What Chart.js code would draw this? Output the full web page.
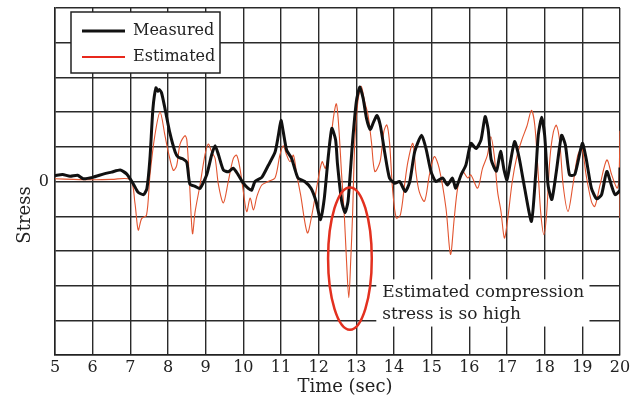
<!DOCTYPE html>
<html>
<head>
<meta charset="utf-8">
<script src="https://cdn.jsdelivr.net/npm/chart.js@4.4.1/dist/chart.umd.min.js"></script>
<style>
  html, body { margin: 0; padding: 0; background: #fff; }
  #wrap { width: 638px; height: 400px; }
</style>
</head>
<body>
<div id="wrap"><canvas id="chart" width="638" height="400"></canvas></div>
<script>
// values (time in sec, stress in grid units)
const measuredTime = [
  5.0, 5.2, 5.4, 5.6, 5.75, 6.0, 6.3, 6.5, 6.73, 6.9, 7.08, 7.2, 7.35, 7.44, 7.52, 7.6, 7.68, 7.73, 7.77, 7.83,
  7.92, 8.05, 8.19, 8.27, 8.4, 8.5, 8.58, 8.72, 8.85, 9.03, 9.16, 9.25, 9.34, 9.47, 9.6, 9.73, 9.86, 10.0, 10.13, 10.22,
  10.31, 10.49, 10.66, 10.84, 10.93, 11.0, 11.06, 11.15, 11.28, 11.45, 11.63, 11.8, 11.93, 12.05, 12.15, 12.26, 12.35, 12.45, 12.5, 12.61,
  12.7, 12.78, 12.9, 13.0, 13.09, 13.18, 13.27, 13.37, 13.46, 13.55, 13.64, 13.75, 13.88, 14.02, 14.15, 14.3, 14.42, 14.55, 14.73, 14.85,
  14.98, 15.11, 15.29, 15.42, 15.55, 15.64, 15.78, 15.91, 16.04, 16.18, 16.31, 16.42, 16.5, 16.58, 16.72, 16.83, 16.92, 17.0, 17.2, 17.32,
  17.47, 17.65, 17.76, 17.83, 17.92, 18.0, 18.09, 18.19, 18.31, 18.45, 18.55, 18.66, 18.8, 19.0, 19.1, 19.24, 19.38, 19.51, 19.65, 19.78,
  19.87, 20.0, 20.0
];
const measuredStress = [
  0.17, 0.2, 0.15, 0.18, 0.08, 0.12, 0.22, 0.27, 0.33, 0.22, -0.07, -0.3, -0.38, -0.2, 0.65, 2.1, 2.7, 2.6, 2.65, 2.55,
  2.1, 1.4, 0.85, 0.7, 0.65, 0.55, -0.07, -0.14, -0.2, 0.2, 0.77, 1.03, 0.77, 0.33, 0.28, 0.38, 0.2, -0.05, -0.2, -0.25,
  0.0, 0.12, 0.46, 0.84, 1.33, 1.76, 1.43, 0.9, 0.67, 0.1, 0.0, -0.2, -0.57, -1.1, -0.48, 0.77, 1.53, 1.2, 0.5, -0.57,
  -0.9, -0.57, 1.15, 2.3, 2.72, 2.4, 1.82, 1.5, 1.72, 1.9, 1.6, 0.86, 0.1, -0.05, 0.0, -0.29, 0.0, 0.86, 1.33, 0.95,
  0.29, 0.0, 0.1, -0.1, 0.1, -0.19, 0.19, 0.48, 1.1, 0.95, 1.2, 1.87, 1.5, 0.63, 0.3, 0.87, 0.34, 0.05, 1.15, 0.7,
  -0.2, -1.15, 0.19, 1.33, 1.85, 1.33, -0.1, -0.52, 0.29, 1.33, 1.05, 0.19, 0.2, 1.1, 0.67, -0.19, -0.5, -0.38, 0.29, -0.14,
  -0.38, -0.24, 0.4
];
const estimatedTime = [
  5.0, 5.5, 6.0, 6.5, 7.0, 7.12, 7.21, 7.3, 7.43, 7.52, 7.65, 7.79, 7.92, 8.01, 8.14, 8.23, 8.32, 8.45, 8.5, 8.57,
  8.65, 8.72, 8.85, 8.98, 9.07, 9.16, 9.25, 9.34, 9.47, 9.6, 9.73, 9.82, 9.91, 10.0, 10.09, 10.18, 10.27, 10.36, 10.49, 10.66,
  10.84, 10.97, 11.06, 11.15, 11.24, 11.33, 11.42, 11.52, 11.7, 11.82, 11.96, 12.09, 12.18, 12.31, 12.4, 12.47, 12.53, 12.61, 12.68, 12.74,
  12.8, 12.85, 12.9, 12.96, 13.04, 13.13, 13.22, 13.31, 13.4, 13.49, 13.63, 13.73, 13.81, 13.88, 13.96, 14.06, 14.17, 14.28, 14.37, 14.5,
  14.58, 14.67, 14.81, 14.94, 15.07, 15.2, 15.38, 15.5, 15.6, 15.69, 15.82, 15.96, 16.04, 16.22, 16.35, 16.48, 16.57, 16.66, 16.75, 16.84,
  16.93, 17.01, 17.14, 17.27, 17.4, 17.53, 17.65, 17.74, 17.83, 17.9, 17.98, 18.05, 18.14, 18.23, 18.31, 18.4, 18.49, 18.62, 18.75, 18.88,
  18.99, 19.1, 19.24, 19.33, 19.47, 19.65, 19.78, 19.92, 19.97, 20.0, 20.0
];
const estimatedStress = [
  0.08, 0.06, 0.05, 0.06, 0.05, -0.6, -1.4, -1.07, -0.97, 0.17, 1.32, 2.0, 1.32, 0.84, 0.32, 0.46, 1.08, 1.32, 1.2, 0.0,
  -1.5, -0.87, -0.1, 0.76, 1.08, 0.85, 0.67, -0.1, -0.62, 0.0, 0.65, 0.76, 0.38, -0.29, -0.87, -0.48, -0.82, -0.43, -0.1, 0.0,
  0.1, 0.76, 1.03, 0.76, 0.57, 0.76, 0.19, -0.38, -1.48, -0.96, -0.1, 0.57, 0.38, 1.13, 1.9, 2.24, 1.63, 0.19, -0.96, -2.3,
  -3.35, -2.3, -0.96, 1.15, 2.3, 2.74, 2.3, 1.92, 1.15, 0.29, 0.57, 1.44, 1.63, 1.15, -0.19, -1.05, -0.96, -0.1, 0.57, 1.1,
  0.29, -0.29, -0.57, 0.19, 0.72, 0.38, -0.77, -2.1, -1.05, -0.19, 0.29, 0.1, 0.19, -0.19, 0.38, 0.76, 1.29, 0.76, -0.29, -0.86,
  -1.63, -1.15, 0.0, 0.76, 1.22, 1.6, 2.05, 1.6, 0.19, -0.96, -1.53, -0.96, 0.67, 1.42, 1.62, 1.14, -0.1, -0.86, -0.1, 0.76,
  0.95, 0.19, -0.57, -0.72, -0.1, 0.62, 0.19, -0.19, 0.0, 1.44, -1.05
];
const seriesNames = ['Measured', 'Estimated'];
const noteLines = ['Estimated compression', 'stress is so high'];

const serif = '"DejaVu Serif", "Liberation Serif", serif';
const toPoints = (xs, ys) => xs.map((x, i) => ({ x: x, y: ys[i] }));

// axis titles, legend box and the ellipse note
const decorations = {
  id: 'decorations',
  afterDatasetsDraw(chart) {
    const ctx = chart.ctx;
    const xs = chart.scales.x, ys = chart.scales.y;
    ctx.save();

    // ellipse around the big dip
    ctx.strokeStyle = '#e3301f';
    ctx.lineWidth = 2.5;
    ctx.beginPath();
    const cx = xs.getPixelForValue(12.83), cy = ys.getPixelForValue(-2.22);
    const rx = xs.getPixelForValue(13.41) - cx, ry = ys.getPixelForValue(-4.27) - cy;
    ctx.ellipse(cx, cy, rx, ry, 0, 0, Math.PI * 2);
    ctx.stroke();

    // note box
    const bx = xs.getPixelForValue(13.53), bx2 = xs.getPixelForValue(19.19);
    const by = ys.getPixelForValue(-2.82), by2 = ys.getPixelForValue(-4.18);
    ctx.fillStyle = '#fff';
    ctx.fillRect(bx, by, bx2 - bx, by2 - by);
    ctx.fillStyle = '#222';
    ctx.font = '17px ' + serif;
    ctx.textBaseline = 'middle';
    ctx.textAlign = 'left';
    ctx.fillText(noteLines[0], bx + 6, by + 13);
    ctx.fillText(noteLines[1], bx + 6, by + 35);

    // legend
    const lx = chart.chartArea.left + 16, ly = chart.chartArea.top + 4;
    ctx.fillStyle = '#fff';
    ctx.fillRect(lx, ly, 149, 61);
    ctx.strokeStyle = '#222';
    ctx.lineWidth = 1.5;
    ctx.strokeRect(lx, ly, 149, 61);
    chart.data.datasets.forEach((ds, i) => {
      const yy = ly + 19 + i * 26;
      ctx.strokeStyle = i === 0 ? '#111' : '#e8281c';
      ctx.lineWidth = i === 0 ? 3 : 2;
      ctx.beginPath();
      ctx.moveTo(lx + 11, yy);
      ctx.lineTo(lx + 54, yy);
      ctx.stroke();
      ctx.fillStyle = '#222';
      ctx.font = '16px ' + serif;
      ctx.fillText(ds.label, lx + 62, yy);
    });

    // axis titles
    ctx.font = '18px ' + serif;
    ctx.textAlign = 'center';
    ctx.fillText('Time (sec)', 345, 387);
    ctx.translate(25, 215);
    ctx.rotate(-Math.PI / 2);
    ctx.fillText('Stress', 0, 0);
    ctx.restore();
  }
};

new Chart(document.getElementById('chart'), {
  type: 'line',
  data: {
    datasets: [
      {
        label: seriesNames[0],
        data: toPoints(measuredTime, measuredStress),
        borderColor: '#111',
        borderWidth: 3,
        pointRadius: 0,
        tension: 0.2,
        order: 1
      },
      {
        label: seriesNames[1],
        data: toPoints(estimatedTime, estimatedStress),
        borderColor: '#e2542f',
        borderWidth: 1.1,
        pointRadius: 0,
        tension: 0.3,
        order: 2
      }
    ]
  },
  options: {
    responsive: false,
    animation: false,
    layout: { padding: { top: 8, right: 18, left: 0, bottom: 0 } },
    scales: {
      x: {
        type: 'linear',
        min: 5,
        max: 20,
        ticks: { stepSize: 1, color: '#222', padding: 3, font: { family: serif, size: 16 } },
        grid: { color: '#2a2a2a', lineWidth: 1.4, drawTicks: false },
        border: { color: '#222', width: 1.5 },
        afterFit: s => { s.height = 45; s.paddingLeft = 0; s.paddingRight = 0; }
      },
      y: {
        min: -5,
        max: 5,
        ticks: {
          stepSize: 1,
          autoSkip: false,
          color: '#222',
          padding: 6,
          font: { family: serif, size: 16 },
          callback: v => (v === 0 ? '0' : '')
        },
        grid: { color: '#2a2a2a', lineWidth: 1.4, drawTicks: false },
        border: { color: '#222', width: 1.5 },
        afterFit: s => { s.width = 55; s.paddingTop = 0; s.paddingBottom = 0; }
      }
    },
    plugins: {
      legend: { display: false },
      tooltip: { enabled: false }
    }
  },
  plugins: [decorations]
});
</script>
</body>
</html>
